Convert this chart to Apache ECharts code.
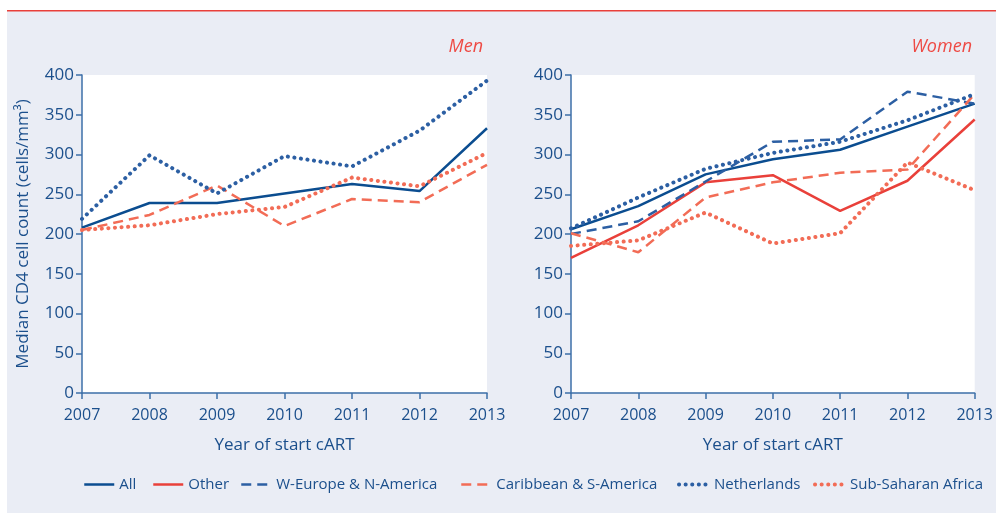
<!DOCTYPE html>
<html><head><meta charset="utf-8">
<script src="https://cdn.jsdelivr.net/npm/echarts@6/dist/echarts.min.js"></script>
<style>html,body{margin:0;padding:0;background:#fff}#c{width:996px;height:513px}</style>
</head><body><div id="c"></div>
<script>
const years = ['2007','2008','2009','2010','2011','2012','2013'];
const yTicks = [0,50,100,150,200,250,300,350,400];
const legendNames = ['All','Other','W-Europe & N-America','Caribbean & S-America','Netherlands','Sub-Saharan Africa'];
// Men
const menAll = [208,239,239,251,263,254,333];
const menCaribbean = [205,224,261,210,244,240,287];
const menNetherlands = [219,299,251,298,285,330,393];
const menSubSaharan = [205,211,225,234,271,260,302];
// Women
const womenAll = [206,235,275,294,306,335,364];
const womenOther = [170,211,265,274,229,267,344];
const womenWEurope = [200,216,266,316,319,379,364];
const womenCaribbean = [201,177,246,265,277,281,376];
const womenNetherlands = [207,246,282,302,316,343,376];
const womenSubSaharan = [185,192,227,188,201,290,255];

const NAVY='#0b4d90', BLUE='#2c5fa3', RED='#e9403a', ORANGE='#f26c56';
const TXT='#1b4f8c', AXIS='#3d6fa8';
const FONT='"Open Sans", "Noto Sans", sans-serif';
const styles = {
  'All': {color:NAVY, width:2.5, type:'solid'},
  'Other': {color:RED, width:2.5, type:'solid'},
  'W-Europe & N-America': {color:BLUE, width:2.5, type:[10,6]},
  'Caribbean & S-America': {color:ORANGE, width:2.5, type:[10,6]},
  'Netherlands': {color:BLUE, width:4, type:[0.1,6.5], cap:'round'},
  'Sub-Saharan Africa': {color:ORANGE, width:4, type:[0.1,6.5], cap:'round'}
};
function mk(name, data, idx){
  const s = styles[name];
  return {name, type:'line', data, xAxisIndex:idx, yAxisIndex:idx, symbol:'none',
    color:s.color, lineStyle:{color:s.color, width:s.width, type:s.type, cap:s.cap||'butt'}};
}
const grids=[{left:82,top:75,width:405,height:318},{left:571,top:75,width:404,height:318}];
function xAx(i){return {type:'category', gridIndex:i, data:years, boundaryGap:false,
  axisLine:{lineStyle:{color:AXIS,width:1.5}}, axisTick:{length:6,lineStyle:{color:AXIS,width:1.5}},
  axisLabel:{color:TXT,fontSize:16,fontFamily:FONT,margin:14},
  name:'Year of start cART', nameLocation:'middle', nameGap:44,
  nameTextStyle:{color:TXT,fontSize:17,fontFamily:FONT}};}
function yAx(i){return {type:'value', gridIndex:i, min:yTicks[0], max:yTicks[yTicks.length-1], interval:yTicks[1]-yTicks[0],
  axisLine:{show:true,lineStyle:{color:AXIS,width:1.5}}, axisTick:{show:true,length:6,lineStyle:{color:AXIS,width:1.5}},
  splitLine:{show:false}, axisLabel:{color:TXT,fontSize:17,fontFamily:FONT,margin:8},
  name: i===0?'Median CD4 cell count (cells/mm³)':'', nameLocation:'middle', nameGap:50,
  nameTextStyle:{color:TXT,fontSize:17,fontFamily:FONT}};}
const legendLefts=[83,152,240,460,677,813];
const legends = legendNames.map((n,i)=>{
  const s = styles[n];
  return {left:legendLefts[i], top:477, itemWidth:30, itemHeight:12, padding:0,
    itemStyle:{opacity:0}, data:[n],
    lineStyle:{width:s.width, type:s.type, cap:s.cap||'butt', color:s.color},
    textStyle:{color:TXT,fontSize:15,fontFamily:FONT}};
});
const chart = echarts.init(document.getElementById('c'), null, {renderer:'canvas'});
chart.setOption({
  backgroundColor:'#fff',
  animation:false,
  graphic:[
    {type:'rect', shape:{x:7,y:11,width:989,height:502}, style:{fill:'#eaedf5'}, z:-10},
    {type:'rect', shape:{x:7,y:10,width:989,height:1.5}, style:{fill:'#e9403a'}, z:-9}
  ],
  title:[
    {text:'Men', right:996-488, top:33, textStyle:{color:'#ee4a44',fontStyle:'italic',fontWeight:'normal',fontSize:18,fontFamily:FONT}},
    {text:'Women', right:996-977, top:33, textStyle:{color:'#ee4a44',fontStyle:'italic',fontWeight:'normal',fontSize:18,fontFamily:FONT}}
  ],
  grid: grids.map(g=>Object.assign({show:true,backgroundColor:'#fff',borderWidth:0},g)),
  xAxis:[xAx(0),xAx(1)],
  yAxis:[yAx(0),yAx(1)],
  legend: legends,
  series:[
    mk('All',menAll,0), mk('Caribbean & S-America',menCaribbean,0),
    mk('Netherlands',menNetherlands,0), mk('Sub-Saharan Africa',menSubSaharan,0),
    mk('All',womenAll,1), mk('Other',womenOther,1), mk('W-Europe & N-America',womenWEurope,1),
    mk('Caribbean & S-America',womenCaribbean,1), mk('Netherlands',womenNetherlands,1),
    mk('Sub-Saharan Africa',womenSubSaharan,1)
  ]
});
</script></body></html>
